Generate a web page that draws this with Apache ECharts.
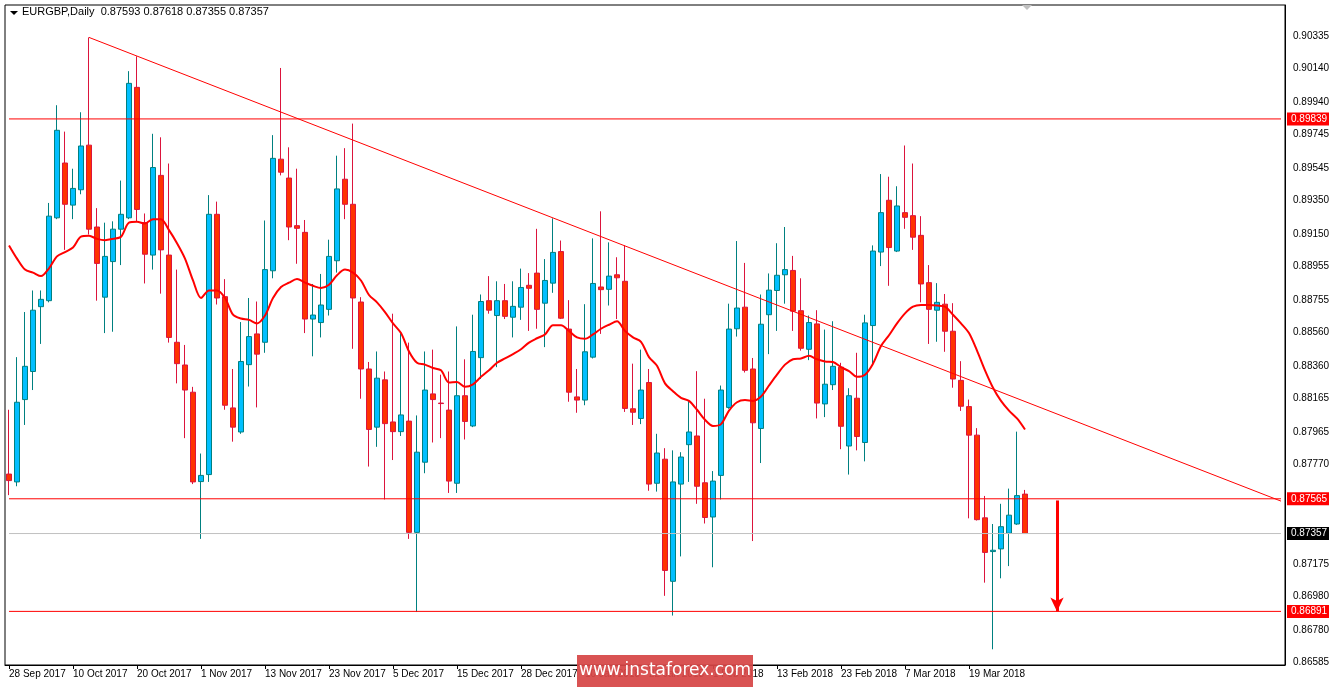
<!DOCTYPE html>
<html>
<head>
<meta charset="utf-8">
<script src="https://cdn.jsdelivr.net/npm/echarts@6/dist/echarts.min.js"></script>
<style>html,body{margin:0;padding:0;background:#fff}#chart{width:1329px;height:687px}</style>
</head>
<body>
<div id="chart"></div>
<script>
var opens = [0.87713,0.87666,0.88159,0.88327,0.88715,0.88751,0.89247,0.89575,0.89323,0.89415,0.89682,0.89192,0.88772,0.88985,0.89179,0.89247,0.90028,0.89218,0.89024,0.89501,
0.89024,0.88502,0.88366,0.88203,0.87668,0.87710,0.89268,0.88775,0.88109,0.87965,0.88368,0.88552,0.88502,0.88930,0.89598,0.89485,0.89200,0.89160,0.88641,0.88620,
0.88699,0.88990,0.89478,0.89328,0.88743,0.88342,0.87994,0.88277,0.88025,0.87967,0.88030,0.87364,0.87784,0.88193,0.88138,0.88096,0.87658,0.88182,0.88001,0.88410,
0.88751,0.88662,0.88751,0.88652,0.88712,0.88843,0.88916,0.88736,0.88856,0.89045,0.88581,0.88175,0.88156,0.88413,0.88833,0.88819,0.88906,0.88867,0.88104,0.88046,
0.88261,0.87658,0.87802,0.87071,0.87653,0.87889,0.87941,0.87661,0.87456,0.87705,0.88112,0.88583,0.88712,0.88342,0.87986,0.88667,0.88812,0.88906,0.88932,0.88691,
0.88460,0.88612,0.88133,0.88248,0.88353,0.87881,0.88167,0.87902,0.88602,0.89042,0.89352,0.89048,0.89278,0.89260,0.89142,0.88859,0.88694,0.88730,0.88568,0.88274,
0.88117,0.87946,0.87451,0.87249,0.87265,0.87359,0.87414,0.87593];
var highs = [0.88098,0.88413,0.88683,0.88812,0.88812,0.89336,0.89921,0.89763,0.89541,0.89879,0.90327,0.89305,0.89218,0.89226,0.89470,0.90125,0.90214,0.89273,0.89750,0.89729,
0.89572,0.88937,0.88486,0.88235,0.87836,0.89383,0.89344,0.88880,0.88342,0.88623,0.88767,0.88746,0.89231,0.89742,0.90144,0.89669,0.89541,0.89234,0.88851,0.88911,
0.89116,0.89619,0.89664,0.89811,0.88772,0.88384,0.88447,0.88327,0.88673,0.88557,0.88500,0.88064,0.88447,0.88458,0.88308,0.88327,0.88597,0.88400,0.88667,0.88788,
0.88898,0.88867,0.88851,0.88867,0.88943,0.88916,0.89181,0.89000,0.89244,0.89111,0.88754,0.88342,0.88730,0.89124,0.89286,0.89100,0.89011,0.89082,0.88374,0.88458,
0.88342,0.87954,0.87868,0.87855,0.87844,0.88156,0.88329,0.88164,0.87731,0.88243,0.88733,0.89108,0.88977,0.88408,0.88788,0.88914,0.89095,0.89192,0.89019,0.88885,
0.88662,0.88694,0.88578,0.88628,0.88379,0.88227,0.88439,0.88667,0.89082,0.89509,0.89493,0.89436,0.89680,0.89572,0.89257,0.88964,0.88856,0.88791,0.88736,0.88389,
0.88159,0.87988,0.87582,0.87414,0.87535,0.87626,0.87967,0.87618];
var lows = [0.87587,0.87640,0.88007,0.88216,0.88492,0.88741,0.89239,0.89055,0.89239,0.89388,0.89147,0.88751,0.88557,0.88565,0.88964,0.89239,0.89226,0.88854,0.88937,0.88793,
0.88500,0.88256,0.87928,0.87653,0.87325,0.87666,0.88728,0.88098,0.87907,0.87954,0.88237,0.88112,0.88439,0.88885,0.89501,0.89113,0.88972,0.88557,0.88418,0.88531,
0.88662,0.88919,0.89239,0.88463,0.88164,0.87758,0.87876,0.87561,0.87797,0.87941,0.87325,0.86887,0.87718,0.87902,0.87928,0.87600,0.87600,0.87920,0.87994,0.88282,
0.88673,0.88353,0.88641,0.88531,0.88636,0.88570,0.88583,0.88473,0.88798,0.88641,0.88146,0.88080,0.88125,0.88405,0.88552,0.88722,0.88641,0.88085,0.88007,0.88012,
0.87613,0.87608,0.86984,0.86866,0.87220,0.87666,0.87535,0.87417,0.87155,0.87561,0.88104,0.88536,0.88321,0.87312,0.87779,0.88431,0.88570,0.88733,0.88570,0.88452,
0.88395,0.88046,0.88054,0.88216,0.87862,0.87710,0.87855,0.87789,0.88366,0.88958,0.88840,0.89042,0.89181,0.89055,0.88741,0.88492,0.88505,0.88445,0.88230,0.88091,
0.87448,0.87435,0.87063,0.86664,0.87089,0.87162,0.87409,0.87355];
var closes = [0.87674,0.88143,0.88358,0.88694,0.88759,0.89257,0.89771,0.89328,0.89423,0.89677,0.89179,0.88974,0.89016,0.89179,0.89268,0.90052,0.89297,0.89029,0.89548,0.89055,
0.88531,0.88374,0.88216,0.87666,0.87705,0.89268,0.88767,0.88125,0.87994,0.88387,0.88536,0.88431,0.88937,0.89603,0.89520,0.89192,0.89184,0.88641,0.88665,0.88725,
0.89016,0.89420,0.89328,0.88767,0.88342,0.87980,0.88287,0.88015,0.87967,0.88067,0.87364,0.87844,0.88216,0.88159,0.88135,0.87671,0.88182,0.88028,0.88447,0.88746,
0.88694,0.88751,0.88657,0.88717,0.88830,0.88825,0.88699,0.88872,0.89040,0.88646,0.88203,0.88156,0.88445,0.88854,0.88817,0.88898,0.88888,0.88106,0.88083,0.88216,
0.87653,0.87839,0.87136,0.87666,0.87815,0.87965,0.87640,0.87453,0.87671,0.88216,0.88581,0.88707,0.88334,0.88020,0.88610,0.88814,0.88903,0.88937,0.88688,0.88466,
0.88620,0.88138,0.88251,0.88358,0.87999,0.88182,0.87938,0.88618,0.89048,0.89278,0.89069,0.89318,0.89250,0.89131,0.88851,0.88699,0.88741,0.88568,0.88282,0.88119,
0.87946,0.87440,0.87244,0.87257,0.87398,0.87467,0.87584,0.87357];
var maLine = [0.89082,0.89003,0.88937,0.88919,0.88898,0.88945,0.89016,0.89042,0.89069,0.89134,0.89139,0.89121,0.89113,0.89121,0.89134,0.89218,0.89223,0.89213,0.89239,0.89239,
0.89173,0.89095,0.89003,0.88872,0.88767,0.88812,0.88812,0.88767,0.88667,0.88644,0.88636,0.88615,0.88662,0.88767,0.88833,0.88859,0.88880,0.88859,0.88840,0.88827,
0.88846,0.88903,0.88937,0.88919,0.88872,0.88785,0.88741,0.88683,0.88615,0.88557,0.88447,0.88379,0.88368,0.88348,0.88334,0.88261,0.88264,0.88235,0.88250,0.88295,
0.88334,0.88379,0.88405,0.88431,0.88460,0.88500,0.88526,0.88549,0.88604,0.88604,0.88570,0.88531,0.88523,0.88549,0.88583,0.88607,0.88628,0.88570,0.88531,0.88505,
0.88413,0.88361,0.88256,0.88209,0.88169,0.88151,0.88098,0.88038,0.88001,0.88012,0.88093,0.88143,0.88156,0.88151,0.88177,0.88243,0.88308,0.88368,0.88400,0.88405,
0.88421,0.88400,0.88387,0.88384,0.88353,0.88329,0.88295,0.88308,0.88374,0.88479,0.88544,0.88615,0.88675,0.88715,0.88725,0.88725,0.88722,0.88715,0.88667,0.88615,
0.88557,0.88452,0.88334,0.88230,0.88151,0.88093,0.88046,0.87980];
var dateLabels = {0:'28 Sep 2017',8:'10 Oct 2017',16:'20 Oct 2017',24:'1 Nov 2017',32:'13 Nov 2017',40:'23 Nov 2017',
  48:'5 Dec 2017',56:'15 Dec 2017',64:'28 Dec 2017',72:'10 Jan 2018',80:'22 Jan 2018',88:'1 Feb 2018',
  96:'13 Feb 2018',104:'23 Feb 2018',112:'7 Mar 2018',120:'19 Mar 2018'};
var priceTicks = [0.90335,0.90140,0.89940,0.89745,0.89545,0.89350,0.89150,0.88955,0.88755,0.88560,0.88360,0.88165,0.87965,0.87770,0.87175,0.86980,0.86780,0.86585];
var redLevels = [0.89839,0.87565,0.86891];
var lastPrice = 0.87357;
var trendStart = [10, 0.90327], trendEnd = [159, 0.87551];
var arrowFrom = [131, 0.87555], arrowTo = [131, 0.86891];

var totalSlots = 160;
var categories = [];
for (var i = 0; i < totalSlots; i++) categories.push(dateLabels[i] || '');
var candles = opens.map(function (o, i) { return [o, closes[i], lows[i], highs[i]]; });

var FONT = 'Liberation Sans';
var tickMarks = priceTicks.map(function (v) {
  var label = {show: true, position: 'end', formatter: v.toFixed(5), distance: 12, color: '#000', fontFamily: FONT, fontSize: 10};
  return [{coord: [0, v], label: label}, {coord: [totalSlots - 1, v], label: label}];
});

function levelSeries(v, lineColor, tagColor) {
  var arr = categories.map(function () { return v; });
  return {type: 'line', data: arr, silent: true, symbol: 'none', showSymbol: false, z: 4,
    lineStyle: {color: lineColor, width: 1},
    endLabel: {show: true, formatter: v.toFixed(5), distance: 6, color: '#fff', backgroundColor: tagColor,
      padding: [2, 4, 1, 4], fontFamily: FONT, fontSize: 10}};
}

function overlay(marks, lineStyle) {
  return {type: 'line', data: [], silent: true, z: 4,
    markLine: {silent: true, symbol: 'none', animation: false, lineStyle: lineStyle, data: marks}};
}

var series = [
  {
    type: 'candlestick', data: candles, barWidth: 5,
    itemStyle: {color: '#00bfff', color0: '#ff3300', borderColor: '#008080', borderColor0: '#dc143c', borderWidth: 1}
  },
  {
    type: 'line', data: maLine, showSymbol: false, symbol: 'none', smooth: 0.3,
    lineStyle: {color: '#ff0000', width: 2}, z: 3
  },
  overlay(tickMarks, {color: 'rgba(255,255,255,0)', width: 1, type: 'solid'}),
  overlay([[{coord: trendStart, label: {show: false}}, {coord: trendEnd, label: {show: false}}]],
    {color: '#ff0000', width: 1, type: 'solid', opacity: 1}),
  overlay([[{coord: arrowFrom, label: {show: false}}, {coord: arrowTo, symbol: 'arrow', symbolSize: [10, 14], label: {show: false}}]],
    {color: '#ff0000', width: 3, type: 'solid', opacity: 1}),
  levelSeries(lastPrice, '#c0c0c0', '#000')
];
redLevels.forEach(function (v) { series.push(levelSeries(v, '#ff0000', '#ff0000')); });

var option = {
  animation: false,
  grid: {left: 5, right: 44, top: 5, bottom: 22, show: true, borderColor: '#000', borderWidth: 1},
  xAxis: {
    type: 'category', data: categories, boundaryGap: true,
    axisLine: {lineStyle: {color: '#000'}},
    axisTick: {show: true, length: 4, alignWithLabel: true, interval: function (i) { return !!dateLabels[i]; }, lineStyle: {color: '#000'}},
    axisLabel: {interval: function (i) { return !!dateLabels[i]; }, align: 'left', margin: 4, fontFamily: FONT, fontSize: 10, color: '#000'},
    splitLine: {show: false}
  },
  yAxis: {
    type: 'value', position: 'right', min: 0.86570, max: 0.90521, scale: true,
    axisLine: {show: true, lineStyle: {color: '#000'}}, axisTick: {show: false},
    axisLabel: {show: false}, splitLine: {show: false}
  },
  series: series,
  graphic: [
    {type: 'polygon', shape: {points: [[10, 11], [18, 11], [14, 15]]}, style: {fill: '#000'}},
    {type: 'text', left: 22, top: 6, style: {text: 'EURGBP,Daily  0.87593 0.87618 0.87355 0.87357', fill: '#000', font: '11px "Liberation Sans"'}},
    {type: 'polygon', shape: {points: [[1022, 5], [1032, 5], [1027, 10]]}, style: {fill: '#c0c0c0'}},
    {type: 'rect', z: 100, shape: {x: 577, y: 655, width: 176, height: 32}, style: {fill: 'rgba(214,70,70,0.93)'}},
    {type: 'text', z: 101, x: 665, y: 671, style: {text: 'www.instaforex.com', fill: '#fff', font: '17px "DejaVu Sans"', textAlign: 'center', textVerticalAlign: 'middle'}}
  ]
};
var myChart = echarts.init(document.getElementById('chart'));
myChart.setOption(option);
</script>
</body>
</html>
